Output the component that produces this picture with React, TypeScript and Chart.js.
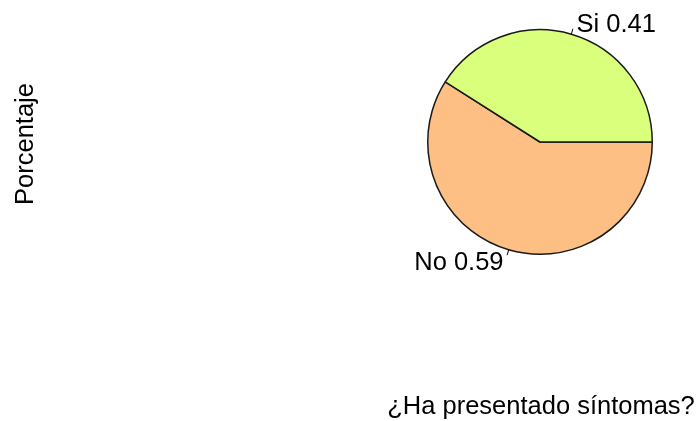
import React, { useEffect, useRef } from "react";
import { Chart, registerables } from "chart.js";

Chart.register(...registerables);

// Data (drawn clockwise from east in Chart.js; R draws counter-clockwise, so order is reversed)
const categories = ["No", "Si"];
const proportions = [0.59, 0.41];
const sliceColors = ["#FDBF84", "#D9FF7C"];
const xTitle = "¿Ha presentado síntomas?";
const yTitle = "Porcentaje";

const FONT = "25.5px 'Liberation Sans', Arial, sans-serif";

const pieLabelsPlugin = {
  id: "pieLabels",
  afterDatasetsDraw(chart: any) {
    const ctx = chart.ctx;
    const meta = chart.getDatasetMeta(0);
    ctx.save();
    ctx.font = FONT;
    ctx.fillStyle = "#000";
    ctx.strokeStyle = "#000";
    ctx.lineWidth = 1;
    meta.data.forEach((arc: any, i: number) => {
      const mid = (arc.startAngle + arc.endAngle) / 2;
      const r = arc.outerRadius;
      const cx = arc.x;
      const cy = arc.y;
      const c = Math.cos(mid);
      const s = Math.sin(mid);
      ctx.beginPath();
      ctx.moveTo(cx + r * c, cy + r * s);
      ctx.lineTo(cx + 1.05 * r * c, cy + 1.05 * r * s);
      ctx.stroke();
      const tx = cx + 1.1 * r * c + (c >= 0 ? 2 : -2);
      const ty = cy + 1.1 * r * s;
      ctx.textAlign = c >= 0 ? "left" : "right";
      ctx.textBaseline = "middle";
      ctx.fillText(`${categories[i]} ${proportions[i].toFixed(2)}`, tx, ty + 2);
    });
    // axis titles
    const area = chart.chartArea;
    const pcx = (area.left + area.right) / 2;
    const pcy = (area.top + area.bottom) / 2;
    ctx.textAlign = "center";
    ctx.textBaseline = "alphabetic";
    ctx.fillText(xTitle, pcx + 1, 414);
    ctx.save();
    ctx.translate(33, pcy + 2);
    ctx.rotate(-Math.PI / 2);
    ctx.fillText(yTitle, 0, 0);
    ctx.restore();
    ctx.restore();
  },
};

export default function App() {
  const ref = useRef<HTMLCanvasElement | null>(null);
  useEffect(() => {
    if (!ref.current) return;
    const chart = new Chart(ref.current, {
      type: "pie",
      data: {
        labels: categories,
        datasets: [
          {
            data: proportions,
            backgroundColor: sliceColors,
            borderColor: "#1a1a1a",
            borderWidth: 1.5,
          },
        ],
      },
      options: {
        responsive: false,
        animation: false,
        rotation: 90,
        layout: { padding: { left: 427, right: 44, top: 29, bottom: 166 } },
        plugins: {
          legend: { display: false },
          tooltip: { enabled: false },
          title: { display: false },
        },
      },
      plugins: [pieLabelsPlugin],
    });
    return () => chart.destroy();
  }, []);
  return (
    <div style={{ position: "fixed", left: 0, top: 0, width: 697, height: 421, background: "#fff" }}>
      <canvas ref={ref} width={697} height={421} />
    </div>
  );
}
